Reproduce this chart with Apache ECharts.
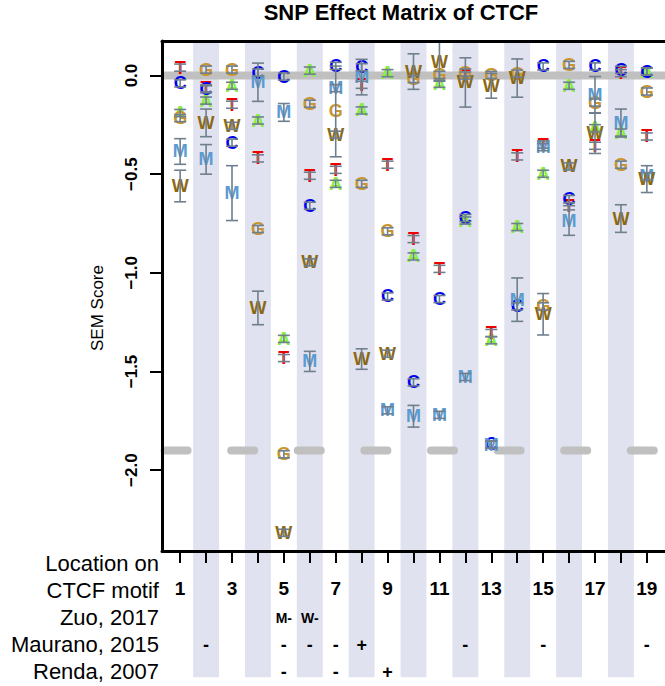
<!DOCTYPE html>
<html>
<head>
<meta charset="utf-8">
<script src="https://cdn.jsdelivr.net/npm/echarts@6/dist/echarts.min.js"></script>
<style>
  html, body { margin: 0; padding: 0; background: #ffffff; }
  #chart { width: 665px; height: 686px; }
</style>
</head>
<body>
<div id="chart"></div>
<script>
// Motif positions along the CTCF binding site
const positions = [1, 2, 3, 4, 5, 6, 7, 8, 9, 10, 11, 12, 13, 14, 15, 16, 17, 18, 19];
const labelledPositions = [1, 3, 5, 7, 9, 11, 13, 15, 17, 19];
const shadedPositions = [2, 4, 6, 8, 10, 12, 14, 16, 18];

// SEM scores per substituted base (M = methylated C, W = methylated on the other strand)
const scoreA = [-0.19, -0.127, -0.052, -0.228, -1.335, 0.025, -0.549, -0.177, 0.012, -0.917, -0.042, -0.735, -1.342, -0.768, -0.498, -0.052, -0.267, -0.289, 0.02];
const scoreC = [-0.04, -0.07, -0.34, 0.015, -0.005, -0.66, 0.049, 0.042, -1.12, -1.555, -1.133, -0.722, -1.87, -1.17, 0.046, -0.626, 0.046, 0.029, 0.02];
const scoreG = [-0.216, 0.03, 0.03, -0.778, -1.92, -0.143, -0.182, -0.549, -0.79, -0.018, 0.003, 0.015, 0.003, 0.01, -1.17, 0.054, -0.137, -0.452, -0.081];
const scoreT = [0.04, -0.065, -0.148, -0.42, -1.432, -0.508, -0.478, -0.047, -0.452, -0.829, -0.98, 0.0, -1.305, -0.41, -0.35, -0.663, -0.356, 0.012, -0.309];
const scoreM = [-0.385, -0.425, -0.596, -0.034, -0.187, -1.449, -0.064, -0.008, -1.697, -1.727, -1.72, -1.528, -1.871, -1.136, -0.363, -0.735, -0.098, -0.241, -0.51];
const scoreW = [-0.56, -0.24, -0.255, -1.178, -2.318, -0.947, -0.30, -1.437, -1.41, 0.02, 0.071, -0.035, -0.052, -0.013, -1.21, -0.461, -0.292, -0.725, -0.525];

// Standard errors of the scores above
const seA = [0.018, 0.018, 0.018, 0.018, 0.018, 0.018, 0.018, 0.018, 0.018, 0.018, 0.018, 0.018, 0.018, 0.018, 0.018, 0.018, 0.018, 0.018, 0.018];
const seC = [0.018, 0.018, 0.018, 0.018, 0.018, 0.018, 0.018, 0.018, 0.018, 0.018, 0.018, 0.018, 0.018, 0.018, 0.018, 0.018, 0.018, 0.018, 0.018];
const seG = [0.018, 0.018, 0.018, 0.018, 0.018, 0.018, 0.23, 0.018, 0.018, 0.018, 0.018, 0.018, 0.018, 0.018, 0.018, 0.018, 0.018, 0.018, 0.018];
const seT = [0.018, 0.018, 0.018, 0.018, 0.018, 0.018, 0.018, 0.018, 0.018, 0.018, 0.018, 0.018, 0.018, 0.018, 0.018, 0.018, 0.018, 0.018, 0.018];
const seM = [0.065, 0.075, 0.139, 0.097, 0.045, 0.051, 0.018, 0.09, 0.018, 0.055, 0.018, 0.018, 0.018, 0.11, 0.018, 0.075, 0.093, 0.071, 0.018];
const seW = [0.08, 0.07, 0.018, 0.085, 0.018, 0.018, 0.018, 0.052, 0.018, 0.09, 0.1, 0.125, 0.063, 0.097, 0.105, 0.018, 0.103, 0.07, 0.068];

// Reference lines: background level and significance threshold
const baselineScore = 0;
const thresholdScore = -1.9;

// Y axis ticks
const yTicks = [0, -0.5, -1.0, -1.5, -2.0];

// Annotation table under the plot
const rowLabels = ['Location on', 'CTCF motif', 'Zuo, 2017', 'Maurano, 2015', 'Renda, 2007'];
const zuoPos = [5, 6];
const zuoText = ['M-', 'W-'];
const mauranoPos = [2, 5, 6, 7, 8, 12, 15, 19];
const mauranoText = ['-', '-', '-', '-', '+', '-', '-', '-'];
const rendaPos = [5, 7, 9];
const rendaText = ['-', '-', '+'];

const FONT = '"Liberation Sans", Arial, Helvetica, sans-serif';
const X_MIN = 0.3, X_MAX = 19.7;
const Y_MIN = -2.41, Y_MAX = 0.175;
const BAND_FLOOR = -3.05;

const letters = [
  { key: 'A', scores: scoreA, se: seA, color: '#86F03C' },
  { key: 'T', scores: scoreT, se: seT, color: '#EE0000' },
  { key: 'C', scores: scoreC, se: seC, color: '#0000F0' },
  { key: 'G', scores: scoreG, se: seG, color: '#C9952E' },
  { key: 'M', scores: scoreM, se: seM, color: '#5B9BD0' },
  { key: 'W', scores: scoreW, se: seW, color: '#8B6914' }
];

function letterSeries(l) {
  return {
    type: 'custom', name: l.key, xAxisIndex: 0, yAxisIndex: 0, z: 5, silent: true,
    data: positions.map((p, i) => [p, l.scores[i]]),
    renderItem: function (params, api) {
      const pt = api.coord([api.value(0), api.value(1)]);
      return {
        type: 'text', x: pt[0], y: pt[1],
        style: { text: l.key, fill: l.color, fontSize: 18, fontWeight: 'bold', fontFamily: FONT, align: 'center', verticalAlign: 'middle' }
      };
    }
  };
}

const errorData = [];
letters.forEach(l => positions.forEach((p, i) => errorData.push([p, l.scores[i], l.se[i]])));

const errorSeries = {
  type: 'custom', xAxisIndex: 0, yAxisIndex: 0, z: 6, silent: true, clip: true,
  data: errorData,
  renderItem: function (params, api) {
    const x = api.value(0), v = api.value(1), se = api.value(2);
    const top = api.coord([x, v + se]);
    const bot = api.coord([x, v - se]);
    const half = 6;
    const style = { stroke: '#6F7F8E', lineWidth: 1.6 };
    return {
      type: 'group', children: [
        { type: 'line', shape: { x1: top[0], y1: top[1], x2: bot[0], y2: bot[1] }, style: style },
        { type: 'line', shape: { x1: top[0] - half, y1: top[1], x2: top[0] + half, y2: top[1] }, style: style },
        { type: 'line', shape: { x1: bot[0] - half, y1: bot[1], x2: bot[0] + half, y2: bot[1] }, style: style }
      ]
    };
  }
};

const bandSeries = {
  type: 'custom', xAxisIndex: 0, yAxisIndex: 0, z: 0, silent: true, clip: false,
  data: shadedPositions.map(p => [p, 0]),
  renderItem: function (params, api) {
    const p = api.value(0);
    const a = api.coord([p - 0.5, Y_MAX]);
    const b = api.coord([p + 0.5, BAND_FLOOR]);
    return { type: 'rect', shape: { x: a[0], y: a[1], width: b[0] - a[0], height: b[1] - a[1] }, style: { fill: '#E0E2EF' } };
  }
};

function annotationSeries(pos, text, row, size) {
  return {
    type: 'custom', xAxisIndex: 2, yAxisIndex: 1, z: 5, silent: true, clip: false,
    data: pos.map(p => [p, row]),
    renderItem: function (params, api) {
      const pt = api.coord([api.value(0), api.value(1)]);
      return {
        type: 'text', x: pt[0], y: pt[1],
        style: { text: text[params.dataIndex], fill: '#000', fontSize: size, fontWeight: 'bold', fontFamily: FONT, align: 'center', verticalAlign: 'middle' }
      };
    }
  };
}

function refLine(score, dashed) {
  return {
    type: 'line', xAxisIndex: 0, yAxisIndex: 0, z: 2, silent: true, symbol: 'none',
    data: [[X_MIN, score], [X_MAX, score]],
    lineStyle: dashed
      ? { color: '#C0C0C0', width: 8, type: [23, 43.6], dashOffset: 64, cap: 'round' }
      : { color: '#C0C0C0', width: 8 }
  };
}

const chart = echarts.init(document.getElementById('chart'), null, { renderer: 'svg', width: 665, height: 686 });

chart.setOption({
  animation: false,
  backgroundColor: '#ffffff',
  textStyle: { fontFamily: FONT },
  graphic: [
    {
      type: 'text', x: 401, y: 12, z: 20,
      style: { text: 'SNP Effect Matrix of CTCF', fontSize: 22, fontWeight: 'bold', fontFamily: FONT, fill: '#000', align: 'center', verticalAlign: 'middle' }
    },
    {
      type: 'text', x: 97, y: 308, rotation: Math.PI / 2, z: 20,
      style: { text: 'SEM Score', fontSize: 17, fontWeight: 'normal', fontFamily: FONT, fill: '#000', align: 'center', verticalAlign: 'middle' }
    }
  ],
  grid: [
    { left: 162, top: 41, width: 513, height: 510 },
    { left: 162, top: 550, width: 513, height: 135 }
  ],
  xAxis: [
    {
      gridIndex: 0, type: 'value', min: X_MIN, max: X_MAX, position: 'bottom', z: 10,
      axisLine: { show: true, onZero: false, lineStyle: { color: '#000', width: 3 } },
      axisTick: { show: true, customValues: positions, length: 12, lineStyle: { color: '#000', width: 2 } },
      axisLabel: { show: true, customValues: labelledPositions, margin: 28, fontSize: 19, fontWeight: 'bold', color: '#000', fontFamily: FONT },
      splitLine: { show: false }
    },
    {
      gridIndex: 0, type: 'value', min: X_MIN, max: X_MAX, position: 'top', z: 10,
      axisLine: { show: true, onZero: false, lineStyle: { color: '#000', width: 3 } },
      axisTick: { show: false }, axisLabel: { show: false }, splitLine: { show: false }
    },
    { gridIndex: 1, type: 'value', min: X_MIN, max: X_MAX, show: false }
  ],
  yAxis: [
    {
      gridIndex: 0, type: 'value', min: Y_MIN, max: Y_MAX, z: 10,
      axisLine: { show: true, onZero: false, lineStyle: { color: '#000', width: 3 } },
      axisTick: { show: true, customValues: yTicks, length: 12, lineStyle: { color: '#000', width: 2 } },
      axisLabel: {
        show: true, customValues: yTicks, rotate: 90, margin: 22,
        fontSize: 17, fontWeight: 'bold', color: '#000', fontFamily: FONT,
        formatter: v => (v === 0 ? '0.0' : '\u2212' + Math.abs(v).toFixed(1))
      },
      splitLine: { show: false }
    },
    {
      gridIndex: 1, type: 'category', data: rowLabels, inverse: true,
      axisLine: { show: false }, axisTick: { show: false }, splitLine: { show: false },
      axisLabel: { show: true, interval: 0, fontSize: 22, color: '#000', margin: 3, fontFamily: FONT }
    }
  ],
  series: [
    bandSeries,
    refLine(baselineScore, false),
    refLine(thresholdScore, true),
    ...letters.map(letterSeries),
    errorSeries,
    annotationSeries(zuoPos, zuoText, 2, 14),
    annotationSeries(mauranoPos, mauranoText, 3, 18),
    annotationSeries(rendaPos, rendaText, 4, 18)
  ]
});
</script>
</body>
</html>
